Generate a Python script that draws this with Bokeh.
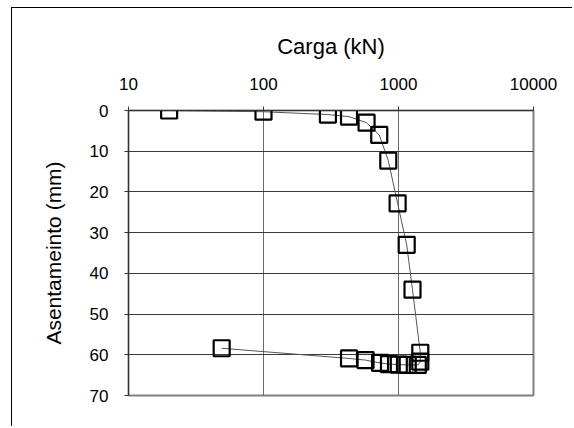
from bokeh.plotting import figure
from bokeh.models import Range1d, FixedTicker, NumeralTickFormatter, ColumnDataSource
from bokeh.embed import file_html
from bokeh.resources import INLINE

# Load (kN) and settlement (mm), loading then unloading, in test order
carga = [20, 100, 300, 430, 580, 720, 840, 985, 1150, 1270, 1450,
         1450, 1390, 1170, 1005, 850, 730, 570, 430, 49]
asentamiento = [0.0, 0.3, 1.0, 1.5, 3.0, 6.0, 12.3, 22.8, 33.0, 44.0, 59.5,
                61.7, 62.5, 62.5, 62.4, 62.3, 62.0, 61.3, 60.9, 58.4]

x_ticks = [10, 100, 1000, 10000]
y_ticks = [0, 10, 20, 30, 40, 50, 60, 70]

FONT = "Liberation Sans"

src = ColumnDataSource(data=dict(x=carga, y=asentamiento))

p = figure(width=561, height=419, x_axis_type="log", x_axis_location="above",
           x_range=Range1d(10, 10000), y_range=Range1d(70, 0),
           output_backend="svg", toolbar_location=None,
           min_border_left=116, min_border_right=40,
           min_border_top=102, min_border_bottom=32)

# outer chart border (only left/top edges are visible in the reference)
p.styles = {"margin-left": "11px", "margin-top": "7px",
            "border-left": "1px solid black", "border-top": "1px solid black"}

p.line("x", "y", source=src, line_color="#555555", line_width=1)
p.scatter("x", "y", source=src, marker="square", size=16,
          fill_alpha=0, line_color="black", line_width=2.2)

p.outline_line_color = "#808080"
p.outline_line_width = 2

p.xaxis.ticker = FixedTicker(ticks=x_ticks, minor_ticks=[])
p.yaxis.ticker = FixedTicker(ticks=y_ticks, minor_ticks=[])
p.xaxis.formatter = NumeralTickFormatter(format="0")

p.xaxis.axis_label = "Carga (kN)"
p.yaxis.axis_label = "Asentameinto (mm)"

for ax in (p.xaxis, p.yaxis):
    ax.axis_label_text_font = FONT
    ax.axis_label_text_font_style = "normal"
    ax.axis_label_text_color = "black"
    ax.major_label_text_font = FONT
    ax.major_label_text_color = "black"
    ax.major_label_text_font_size = "17px"
    ax.axis_line_color = "#333333"
    ax.axis_line_width = 1
    ax.major_tick_line_color = "#333333"
    ax.major_tick_out = 4
    ax.major_tick_in = 0
    ax.minor_tick_line_color = None

p.xaxis.axis_label_text_font_size = "22px"
p.yaxis.axis_label_text_font_size = "21px"
p.xaxis.major_label_standoff = 17
p.yaxis.major_label_standoff = 16
p.xaxis.axis_label_standoff = 16
p.yaxis.axis_label_standoff = 22

p.xgrid.ticker = FixedTicker(ticks=x_ticks)
p.ygrid.ticker = FixedTicker(ticks=y_ticks)
p.xgrid.grid_line_color = "#6a6a6a"
p.xgrid.grid_line_width = 1
p.ygrid.grid_line_color = "#3a3a3a"
p.ygrid.grid_line_width = 1

p.background_fill_color = "white"
p.border_fill_color = "white"

open("out.html", "w").write(file_html(p, INLINE))
